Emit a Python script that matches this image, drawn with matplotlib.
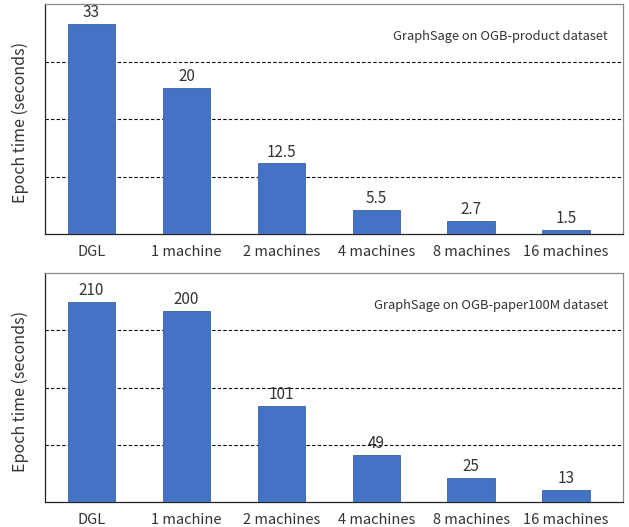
import matplotlib
matplotlib.use("Agg")
import matplotlib.pyplot as plt
import numpy as np

plt.rcParams['font.family'] = ['Noto Sans CJK SC', 'DejaVu Sans']

# x categories
setups = ['DGL', '1 machine', '2 machines', '4 machines', '8 machines', '16 machines']

# OGB-product: labels printed on the bars, and the bar heights as drawn (0-40 axis)
product_time = ['33', '20', '12.5', '5.5', '2.7', '1.5']
product_bar = [36.5, 25.4, 12.3, 4.2, 2.3, 0.7]

# OGB-paper100M: printed values (bars are to scale on 0-240 axis)
paper_time = [210, 200, 101, 49, 25, 13]

bar_color = '#4472C4'
txt = '#333333'

fig = plt.figure(figsize=(6.29, 5.27), dpi=100)


def draw(ax, heights, labels, ylim, grid, note):
    x = np.arange(len(setups))
    ax.bar(x, heights, width=0.5, color=bar_color, edgecolor='#3A62AA', linewidth=0.6, zorder=3)
    for xi, h, lab in zip(x, heights, labels):
        ax.text(xi, h + ylim * 0.012, lab, ha='center', va='bottom', fontsize=11, color=txt, zorder=4)
    ax.set_xlim(-0.49, 5.6)
    ax.set_ylim(0, ylim)
    for g in grid:
        ax.axhline(g, color='black', linestyle=(0, (3, 2)), linewidth=0.8, zorder=1)
    ax.set_yticks([])
    ax.set_xticks(x)
    ax.set_xticklabels(setups, fontsize=10.5, color=txt)
    ax.tick_params(axis='x', length=0, pad=8)
    for s in ['top', 'right']:
        ax.spines[s].set_color('#888888')
    for s in ['left', 'bottom']:
        ax.spines[s].set_color('#222222')
    for s in ax.spines.values():
        s.set_linewidth(0.9)
    ax.text(0.974, 0.86, note, transform=ax.transAxes, ha='right', va='center', fontsize=9.3, color=txt)


ax1 = fig.add_axes([45 / 629, 1 - 234 / 527, 578 / 629, 230 / 527])
draw(ax1, product_bar, product_time, 40, [10, 20, 30], 'GraphSage on OGB-product dataset')

ax2 = fig.add_axes([45 / 629, 1 - 502 / 527, 578 / 629, 229 / 527])
draw(ax2, paper_time, [str(v) for v in paper_time], 240, [60, 120, 180], 'GraphSage on OGB-paper100M dataset')

fig.text(20 / 629, 1 - 122 / 527, 'Epoch time (seconds)', rotation=90, ha='center', va='center', fontsize=11.5, color=txt)
fig.text(20 / 629, 1 - 391 / 527, 'Epoch time (seconds)', rotation=90, ha='center', va='center', fontsize=11.5, color=txt)

fig.savefig('out.png', dpi=100)
